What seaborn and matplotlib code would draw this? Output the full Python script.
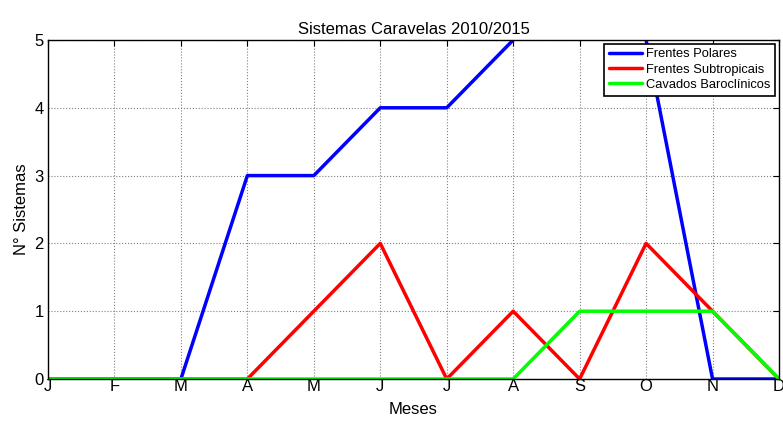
import matplotlib
matplotlib.use("Agg")
import matplotlib.pyplot as plt
import seaborn as sns
import pandas as pd
import numpy as np

months = ["J", "F", "M", "A", "M", "J", "J", "A", "S", "O", "N", "D"]
frentes_polares = [0, 0, 0, 3, 3, 4, 4, 5, 6, 5, 0, 0]
frentes_subtropicais = [0, 0, 0, 0, 1, 2, 0, 1, 0, 2, 1, 0]
cavados_baroclinicos = [0, 0, 0, 0, 0, 0, 0, 0, 1, 1, 1, 0]
series_names = ["Frentes Polares", "Frentes Subtropicais", "Cavados Baroclínicos"]
colors = ["#0000ff", "#ff0000", "#00ff00"]

sns.set_style("white")
plt.rcParams['font.family'] = ['Liberation Sans', 'DejaVu Sans']
plt.rcParams['text.color'] = 'black'
plt.rcParams['axes.labelcolor'] = 'black'
plt.rcParams['xtick.color'] = 'black'
plt.rcParams['ytick.color'] = 'black'

idx = np.arange(len(months))
df = pd.DataFrame({
    "x": np.concatenate([idx, idx, idx]),
    "y": frentes_polares + frentes_subtropicais + cavados_baroclinicos,
    "serie": [series_names[0]] * 12 + [series_names[1]] * 12 + [series_names[2]] * 12,
})

fig = plt.figure(figsize=(7.83, 4.24), dpi=100)
ax = fig.add_axes([48/783, 1 - 379/424, (779 - 48)/783, (379 - 40)/424])

sns.lineplot(data=df, x="x", y="y", hue="serie", palette=colors, linewidth=2.5,
             ax=ax, legend=True)

ax.set_xlim(0, 11)
ax.set_ylim(0, 5)
ax.set_xticks(idx)
ax.set_xticklabels(months, fontsize=12)
ax.set_yticks(range(6))
ax.set_yticklabels([str(v) for v in range(6)], fontsize=12)
ax.tick_params(axis="x", direction="in", length=4, top=True, pad=0, width=0.8)
ax.tick_params(axis="y", direction="in", length=4, right=True, pad=3, width=0.8)
ax.grid(True, color="#808080", linestyle=":", linewidth=0.8)
for s in ax.spines.values():
    s.set_visible(True)
    s.set_color("black")
    s.set_linewidth(1.0)
ax.set_title("Sistemas Caravelas 2010/2015", fontsize=12, pad=4, color="black")
ax.set_xlabel("Meses", fontsize=12, labelpad=6)
ax.set_ylabel("N° Sistemas", fontsize=12, labelpad=4)

leg = ax.legend(loc="upper right", fontsize=9.3, frameon=True, fancybox=False,
                edgecolor="black", framealpha=1, borderpad=0.35, labelspacing=0.25,
                handlelength=2.6, handletextpad=0.3, borderaxespad=0.3)
leg.get_frame().set_linewidth(1.2)
for t in leg.get_texts():
    t.set_color("black")

fig.savefig("out.png", dpi=100)
